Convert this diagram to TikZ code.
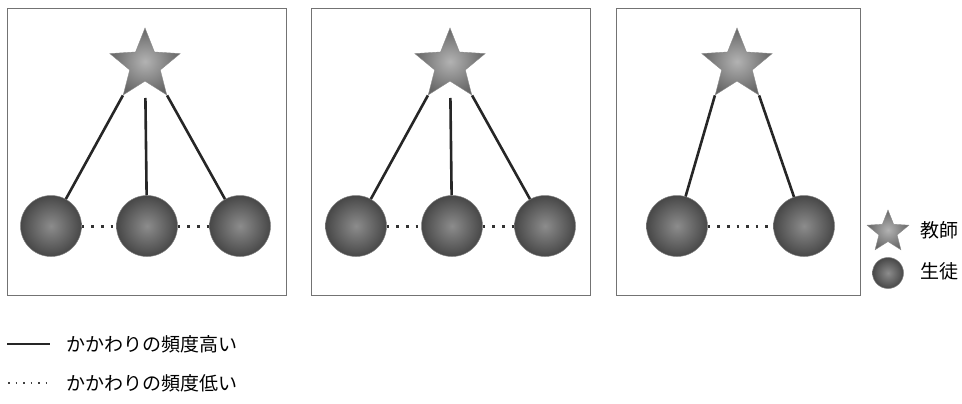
\documentclass[tikz,border=0pt]{standalone}
\usepackage{fontspec}
\setmainfont{Noto Sans CJK JP}
\usetikzlibrary{shapes.geometric}
\begin{document}
\begin{tikzpicture}[x=1pt,y=-1pt,
  frame/.style={draw=black!55,line width=1pt},
  teacher/.style={star,star points=5,star point ratio=2.3,minimum size=#1,inner sep=0pt,
     draw=black!45,line width=0.4pt,shading=radial,inner color=black!30,outer color=black!60},
  teacher/.default=74pt,
  pupil/.style={circle,minimum size=#1,inner sep=0pt,draw=black!50,line width=0.5pt,
     shading=radial,inner color=black!45,outer color=black!72},
  pupil/.default=61pt,
  strong/.style={line width=2.6pt,black!85},
  weak/.style={line width=3pt,black!80,dash pattern=on 2.6pt off 7pt,line cap=butt},
  lbl/.style={anchor=west,font=\fontsize{19}{22}\selectfont,inner sep=0pt}]
\useasboundingbox (0,0) rectangle (962,404);
% frames
\node[frame,minimum width=279pt,minimum height=286pt,inner sep=0pt] (f1) at (146.5,152) {};
\node[frame,minimum width=279pt,minimum height=286pt,inner sep=0pt] (f2) at (451,152) {};
\node[frame,minimum width=244pt,minimum height=286pt,inner sep=0pt] (f3) at (738,152) {};
% panel 1
\node[teacher] (s1) at (145,65) {};
\node[pupil] (a1) at (51,226) {};
\node[pupil] (a2) at (147,226) {};
\node[pupil] (a3) at (240,226) {};
\draw[strong] (s1.outer point 3) -- (a1);
\draw[strong,shorten <=33pt] (s1.center) -- (a2);
\draw[strong] (s1.outer point 4) -- (a3);
\draw[weak] (a1) -- (a2);
\draw[weak] (a2) -- (a3);
% panel 2
\node[teacher] (s2) at (450,65) {};
\node[pupil] (b1) at (356,226) {};
\node[pupil] (b2) at (452,226) {};
\node[pupil] (b3) at (545,226) {};
\draw[strong] (s2.outer point 3) -- (b1);
\draw[strong,shorten <=33pt] (s2.center) -- (b2);
\draw[strong] (s2.outer point 4) -- (b3);
\draw[weak] (b1) -- (b2);
\draw[weak] (b2) -- (b3);
% panel 3
\node[teacher] (s3) at (737,65) {};
\node[pupil] (c1) at (677,226) {};
\node[pupil] (c2) at (804,226) {};
\draw[strong] (s3.outer point 3) -- (c1);
\draw[strong] (s3.outer point 4) -- (c2);
\draw[weak] (c1) -- (c2);
% legend right
\node[teacher=44pt] (ls) at (888,232) {};
\node[lbl] (lt) at (920,230) {教師};
\node[pupil=31pt] (lp) at (888,273) {};
\node[lbl] (lq) at (920,271) {生徒};
% legend bottom
\coordinate (h0) at (7,344);
\coordinate (h1) at (50,344);
\draw[line width=1.6pt,black!85] (h0) -- (h1);
\node[lbl] (ht) at (66,344) {かかわりの頻度高い};
\coordinate (l0) at (8,383);
\coordinate (l1) at (50,383);
\draw[line width=1.8pt,black!75,dash pattern=on 1.5pt off 6pt] (l0) -- (l1);
\node[lbl] (lw) at (66,383) {かかわりの頻度低い};
\end{tikzpicture}
\end{document}
